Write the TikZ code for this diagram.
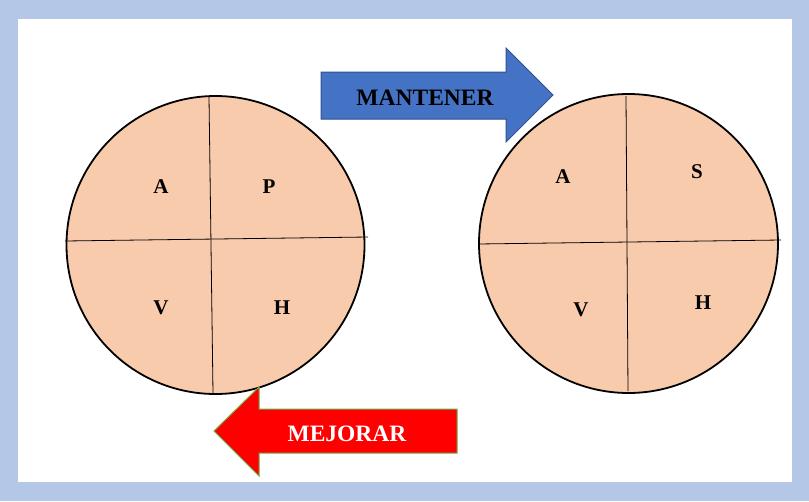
\documentclass[tikz,border=0pt]{standalone}
\usepackage{fontspec}
\setmainfont{Liberation Serif}
\definecolor{frameblue}{HTML}{B4C7E7}
\definecolor{peach}{HTML}{F8CBAD}
\definecolor{arrowblue}{HTML}{4472C4}
\definecolor{arrowblueline}{HTML}{2F528F}
\definecolor{arrowgreenline}{HTML}{70AD47}
\tikzset{
  disk/.style={circle, draw=black, line width=1.8pt, fill=peach, inner sep=0pt, minimum size=#1},
  divider/.style={draw=black, line width=0.8pt},
  letter/.style={font=\fontsize{21}{21}\selectfont\bfseries, inner sep=0pt},
  arrowtext/.style={font=\fontsize{23.5}{23.5}\selectfont\bfseries, inner sep=0pt},
}
\begin{document}
\begin{tikzpicture}[x=1pt,y=-1pt]
\useasboundingbox (0,0) rectangle (809,501);
\fill[frameblue] (0,0) rectangle (809,501);
\fill[white] (18,19) rectangle (792,482);

% left circle
\node[disk=298pt] (c1) at (215.5,245) {};
\coordinate (c1t) at (209,97);
\coordinate (c1b) at (213,393);
\coordinate (c1l) at (65,241);
\coordinate (c1r) at (368,237);
\draw[divider] (c1t) -- (c1b);
\draw[divider] (c1l) -- (c1r);
\node[letter] (a1) at (161,186.5) {A};
\node[letter] (p1) at (269,187) {P};
\node[letter] (v1) at (161,308) {V};
\node[letter] (h1) at (282,308) {H};

% right circle
\node[disk=299pt] (c2) at (628.5,243.5) {};
\coordinate (c2t) at (626,96);
\coordinate (c2b) at (628,391);
\coordinate (c2l) at (478,244);
\coordinate (c2r) at (781,240);
\draw[divider] (c2t) -- (c2b);
\draw[divider] (c2l) -- (c2r);
\node[letter] (a2) at (563,177) {A};
\node[letter] (s2) at (697,172) {S};
\node[letter] (v2) at (581,310) {V};
\node[letter] (h2) at (703,303) {H};

% MANTENER arrow
\draw[fill=arrowblue, draw=arrowblueline, line width=1pt, line join=miter]
  (321,72) -- (506,72) -- (506,48) -- (553,95) -- (506,142) -- (506,119) -- (321,119) -- cycle;
\node[arrowtext, text=black] (mant) at (425,98) {MANTENER};

% MEJORAR arrow
\draw[fill=red, draw=arrowgreenline, line width=1pt, line join=miter]
  (457,409) -- (259,409) -- (259,387) -- (214,431) -- (259,476) -- (259,453) -- (457,453) -- cycle;
\node[arrowtext, text=white] (mej) at (347,434) {MEJORAR};
\end{tikzpicture}
\end{document}
